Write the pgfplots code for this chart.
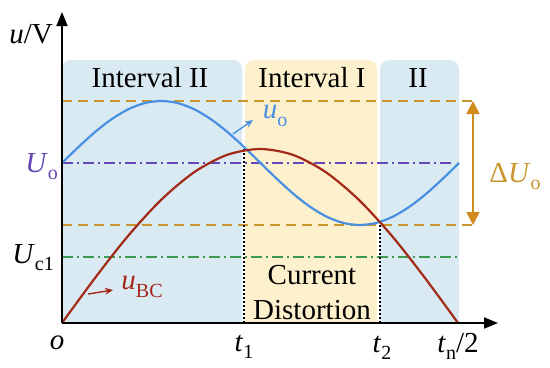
\documentclass[border=0pt]{standalone}
\usepackage{pgfplots}
\pgfplotsset{compat=1.18}
\usepackage{fontspec}
\setmainfont{Liberation Serif}
\usetikzlibrary{arrows.meta}
\definecolor{bgblue}{HTML}{DAEAF3}
\definecolor{bgyellow}{HTML}{FDF0CC}
\definecolor{cblue}{HTML}{4A90E2}
\definecolor{cred}{HTML}{A32A18}
\definecolor{corange}{HTML}{C8962D}
\definecolor{carrow}{HTML}{D08A1E}
\definecolor{cpurple}{HTML}{6548B8}
\definecolor{cgreen}{HTML}{3C9A50}
\newcommand{\sub}[1]{\raisebox{-0.25em}{\fontsize{20bp}{20bp}\selectfont #1}}
\tikzset{lab/.style={font=\fontsize{29bp}{35bp}\selectfont, inner sep=0pt}}
\begin{document}
\begin{tikzpicture}[x=1bp,y=1bp]
\path[use as bounding box] (0,0) rectangle (550,367);
\begin{axis}[at={(62bp,44bp)}, anchor=origin, x=1bp, y=1bp,
  xmin=0, xmax=436, ymin=0, ymax=311,
  axis lines=left, axis on top,
  axis line style={line width=1.8bp, -{Triangle[length=14bp,width=11bp]}},
  ticks=none, clip mode=individual]
% backgrounds
\addplot[fill=bgblue, draw=none, rounded corners=9bp] coordinates {(0,-20) (0,263) (180,263) (180,-20)} -- cycle;
\addplot[fill=bgyellow, draw=none, rounded corners=9bp] coordinates {(183,-20) (183,263) (315,263) (315,-20)} -- cycle;
\addplot[fill=bgblue, draw=none, rounded corners=9bp] coordinates {(318,-20) (318,263) (397,263) (397,-20)} -- cycle;
% reference lines
\addplot[corange, line width=1.4bp, dash pattern=on 10bp off 6bp] coordinates {(0,222) (411,222)};
\addplot[corange, line width=1.4bp, dash pattern=on 10bp off 6bp] coordinates {(0,98) (411,98)};
\addplot[cpurple, line width=1.4bp, dash pattern=on 11bp off 4bp on 2bp off 4bp] coordinates {(0,160) (389,160)};
\addplot[cgreen, line width=1.4bp, dash pattern=on 11bp off 4bp on 2bp off 4bp] coordinates {(0,66) (397,66)};
\addplot[black, line width=1.3bp, dash pattern=on 2bp off 2bp] coordinates {(182,0) (182,174)};
\addplot[black, line width=1.3bp, dash pattern=on 2bp off 2bp] coordinates {(318,0) (318,101)};
% curves
\addplot[cblue, line width=2.2bp, smooth] coordinates {(0,160) (16.5,176.0) (33.1,191) (49.6,203.8) (66.2,213.7) (82.7,219.9) (99.3,222) (115.8,219.9) (132.3,213.7) (148.9,203.8) (165.4,191) (182.0,176.0) (198.5,160) (215.0,144.0) (231.6,129) (248.1,116.2) (264.7,106.3) (281.2,100.1) (297.8,98) (314.3,100.1) (330.8,106.3) (347.4,116.2) (363.9,129) (380.5,144.0) (397,160)};
\addplot[cred, line width=2.2bp, smooth] coordinates {(0,0) (33,45) (66,87) (99,123) (132,150.7) (165,168.1) (198,174) (231,168.1) (264,150.7) (297,123) (330,87) (363,45) (396,0)};
% delta arrow
\addplot[carrow, line width=1.7bp, {Triangle[length=13bp,width=13bp]}-{Triangle[length=13bp,width=13bp]}] coordinates {(411,98) (411,222)};
% label arrows
\addplot[cblue, line width=1.4bp, -{Stealth[length=8bp,width=7bp]}] coordinates {(171,189) (191,203)};
\addplot[cred, line width=1.4bp, -{Stealth[length=8bp,width=7bp]}] coordinates {(26,29) (51,33)};
% texts
\node[lab] at (axis cs:88,245) {Interval II};
\node[lab] at (axis cs:250,245) {Interval I};
\node[lab] at (axis cs:356,245) {II};
\node[lab, align=center] at (axis cs:250,30) {Current\\Distortion};
\node[lab, text=cblue] at (axis cs:213,207) {\textit{u}\sub{o}};
\node[lab, text=cred] at (axis cs:80,36) {\textit{u}\sub{BC}};
\node[lab, text=cpurple, anchor=base east] at (axis cs:-4,151) {\textit{U}\sub{o}};
\node[lab, anchor=base east] at (axis cs:-8,60) {\textit{U}\sub{c1}};
\node[lab, anchor=base] at (axis cs:-5,-26) {\textit{o}};
\node[lab, anchor=base] at (axis cs:182,-28) {\textit{t}\sub{1}};
\node[lab, anchor=base] at (axis cs:320,-29) {\textit{t}\sub{2}};
\node[lab, anchor=base] at (axis cs:396,-29) {\textit{t}\sub{n}/2};
\node[lab, anchor=base] at (axis cs:-31,280) {\textit{u}/V};
\node[lab, text=corange, anchor=base] at (axis cs:453,141) {Δ\textit{U}\sub{o}};
\end{axis}
\end{tikzpicture}
\end{document}
